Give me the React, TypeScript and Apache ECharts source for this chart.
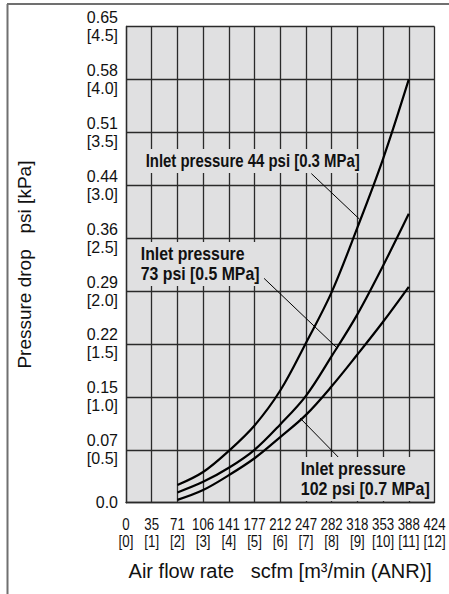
import React, { useEffect, useRef } from "react";
import * as echarts from "echarts";

// x axis: m3/min (ANR) ticks 0..12 with scfm equivalents
const flowM3 = [0, 1, 2, 3, 4, 5, 6, 7, 8, 9, 10, 11, 12];
const flowScfm = ["0", "35", "71", "106", "141", "177", "212", "247", "282", "318", "353", "388", "424"];
// y axis: kPa ticks with psi equivalents
const dropKpa = ["0", "0.5", "1.0", "1.5", "2.0", "2.5", "3.0", "3.5", "4.0", "4.5"];
const dropPsi = ["0.0", "0.07", "0.15", "0.22", "0.29", "0.36", "0.44", "0.51", "0.58", "0.65"];

// curve samples (x: m3/min, y: kPa)
const curveX = [2, 3, 4, 5, 6, 7, 8, 9, 10, 11];
const p03 = [0.167, 0.29, 0.49, 0.73, 1.06, 1.51, 1.99, 2.6, 3.25, 4.0];
const p05 = [0.097, 0.197, 0.33, 0.5, 0.74, 1.01, 1.385, 1.78, 2.24, 2.73];
const p07 = [0.027, 0.12, 0.26, 0.42, 0.62, 0.83, 1.1, 1.4, 1.71, 2.04];

// leader lines [x0, y0, x1, y1] in data units
const leader03 = [7.21, 3.11, 9.08, 2.68];
const leader05 = [5.37, 2.12, 8.22, 1.46];
const leader07 = [6.77, 0.8, 8.3, 0.42];

const label03 = "Inlet pressure 44 psi [0.3 MPa]";
const label05 = "Inlet pressure\n73 psi [0.5 MPa]";
const label07 = "Inlet pressure\n102 psi [0.7 MPa]";

const xTitle = "Air flow rate   scfm [m³/min (ANR)]";
const yTitle = "Pressure drop   psi [kPa]";

const REG = "'Liberation Sans', Arial, sans-serif";
const PLOT_BG = "#e0e0e1";
const GRID_C = "#2a2a2a";
const NARROW_SCALE = 0.83;

export default function App() {
  const ref = useRef<HTMLDivElement>(null);
  useEffect(() => {
    if (!ref.current) return;
    const chart = echarts.init(ref.current, undefined, { renderer: "svg" });
    const curve = (vals: number[]) => ({
      type: "line",
      data: curveX.map((x, i) => [x, vals[i]]),
      smooth: 0.35,
      symbol: "none",
      lineStyle: { color: "#000", width: 2.2 },
      silent: true,
      z: 3,
    });
    const leader = (l: number[]) => ({
      type: "line",
      data: [
        [l[0], l[1]],
        [l[2], l[3]],
      ],
      symbol: "none",
      lineStyle: { color: "#000", width: 1 },
      silent: true,
      z: 4,
    });
    const annot = (x: number, y: number, text: string, sx: number) => ({
      type: "text",
      x,
      y,
      scaleX: sx,
      z: 100,
      style: {
        text,
        font: `bold 18px ${REG}`,
        fill: "#111",
        lineHeight: 20,
        backgroundColor: PLOT_BG,
        padding: [2, 2, 2, 2],
        textVerticalAlign: "top",
      },
    });
    chart.setOption({
      animation: false,
      backgroundColor: "#fff",
      grid: {
        left: 126,
        top: 26.5,
        right: 14.5,
        bottom: 91.3,
        show: true,
        backgroundColor: PLOT_BG,
        borderWidth: 0,
      },
      xAxis: {
        type: "value",
        min: 0,
        max: 12,
        interval: 1,
        name: xTitle,
        nameLocation: "middle",
        nameGap: 58,
        nameTextStyle: { fontFamily: REG, fontSize: 20, color: "#111" },
        axisLine: { show: true, lineStyle: { color: GRID_C, width: 1.3 } },
        axisTick: { show: false },
        splitLine: { show: true, lineStyle: { color: GRID_C, width: 1.3 } },
        axisLabel: { show: false },
      },
      yAxis: {
        type: "value",
        min: 0,
        max: 4.5,
        interval: 0.5,
        name: yTitle,
        nameLocation: "middle",
        nameGap: 92,
        nameRotate: 90,
        nameTextStyle: { fontFamily: REG, fontSize: 19, color: "#111" },
        axisLine: { show: true, lineStyle: { color: GRID_C, width: 1.3 } },
        axisTick: { show: false },
        splitLine: { show: true, lineStyle: { color: GRID_C, width: 1.3 } },
        axisLabel: {
          margin: 8,
          fontFamily: REG,
          fontSize: 16,
          lineHeight: 18,
          color: "#111",
          formatter: (v: number) => {
            const i = Math.round(v / 0.5);
            return i === 0 ? dropPsi[0] : `${dropPsi[i]}\n[${dropKpa[i]}]`;
          },
        },
      },
      series: [curve(p03), curve(p05), curve(p07), leader(leader03), leader(leader05), leader(leader07)],
    });

    // x tick labels drawn narrow (condensed) at positions from the x axis scale
    const yBase = chart.convertToPixel({ yAxisIndex: 0 }, 0) as number;
    const xLabels = flowM3.map((v, i) => ({
      type: "text",
      x: chart.convertToPixel({ xAxisIndex: 0 }, v) as number,
      y: yBase + 13,
      scaleX: NARROW_SCALE,
      silent: true,
      style: {
        text: `${flowScfm[i]}\n[${flowM3[i]}]`,
        font: `16px ${REG}`,
        fill: "#111",
        lineHeight: 17,
        textAlign: "center",
        textVerticalAlign: "top",
      },
    }));

    chart.setOption({
      graphic: [
        { type: "line", shape: { x1: 7, y1: 4, x2: 449, y2: 4 }, style: { stroke: "#707070", lineWidth: 2 } },
        { type: "line", shape: { x1: 7.5, y1: 4, x2: 7.5, y2: 594 }, style: { stroke: "#707070", lineWidth: 2 } },
        annot(144, 149, label03, 0.83),
        annot(139, 242, label05, 0.88),
        annot(299, 457, label07, 0.89),
        ...xLabels,
      ],
    });
    return () => chart.dispose();
  }, []);
  return (
    <div
      ref={ref}
      style={{ position: "fixed", left: 0, top: 0, width: 449, height: 594 }}
    />
  );
}
